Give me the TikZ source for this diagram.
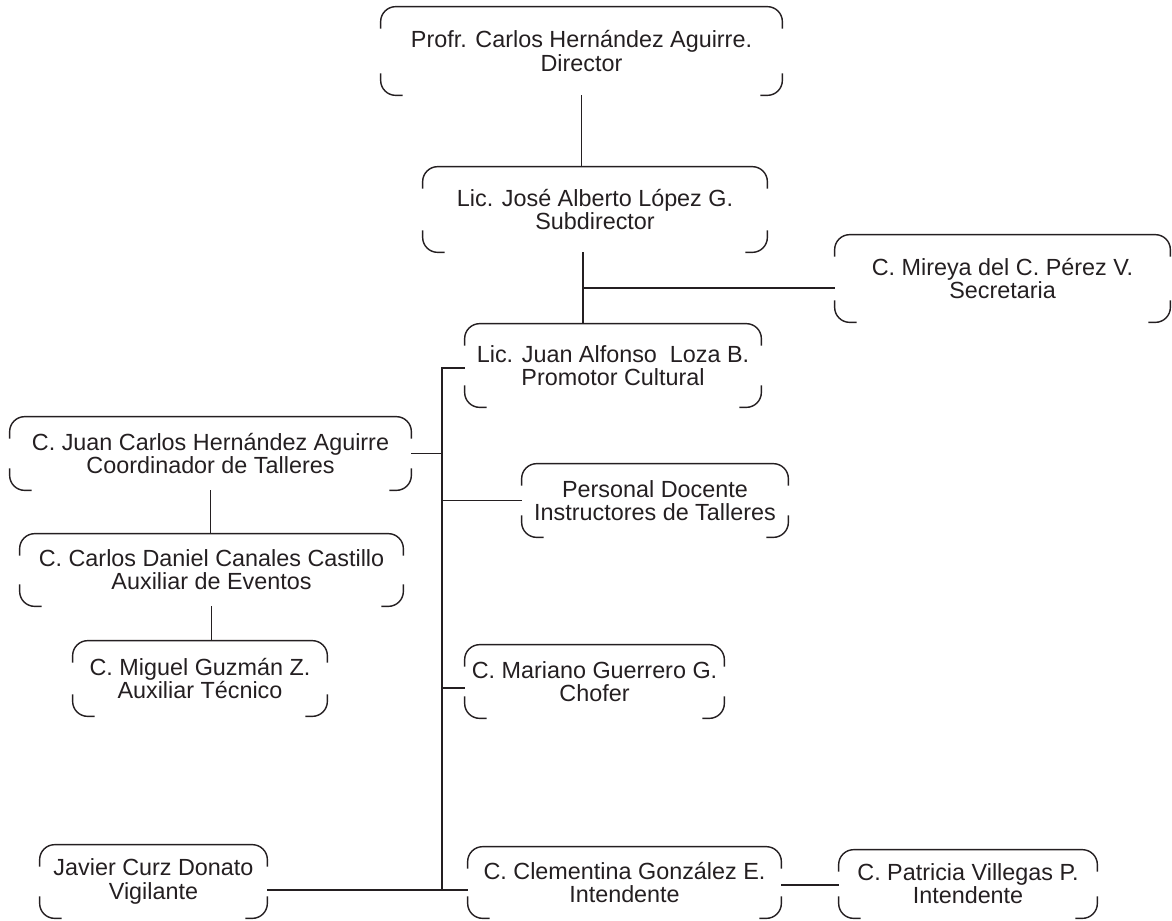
\documentclass[tikz,border=0pt]{standalone}
\usepackage{fontspec}
\setmainfont{Liberation Sans}
\definecolor{cink}{rgb}{0.14, 0.12, 0.13}

\tikzset{
  person/.style 2 args={align=center, inner sep=0pt, minimum width=#1*0.02cm, minimum height=#2*0.02cm, font=\fontsize{13.3}{13.2}\selectfont, text=cink},
  frame/.style={draw=cink, line width=0.8pt, rounded corners=0.3cm},
  link/.style={draw=cink, line width=0.8pt},
}

\begin{document}
\begin{tikzpicture}[x=0.02cm, y=-0.02cm]
\useasboundingbox (0,0) rectangle (1172,920);

% people
\node [person={401}{88}] (dir) at (581.5, 51) {Profr. Carlos Hernández Aguirre.\\Director};
\node [person={344}{85}] (sub) at (595, 209.5) {Lic. José Alberto López G.\\Subdirector};
\node [person={335}{87}] (sec) at (1002.5, 278.5) {C. Mireya del C. Pérez V.\\Secretaria};
\node [person={296}{83}] (pro) at (613, 365.5) {Lic. Juan Alfonso~ Loza B.\\Promotor Cultural};
\node [person={401}{73}] (coord) at (210.5, 453.5) {C. Juan Carlos Hernández Aguirre\\Coordinador de Talleres};
\node [person={383}{72}] (aux) at (211.5, 570) {C. Carlos Daniel Canales Castillo\\Auxiliar de Eventos};
\node [person={254}{75}] (tec) at (200, 678.5) {C. Miguel Guzmán Z.\\Auxiliar Técnico};
\node [person={266}{73}] (doc) at (655, 500.5) {Personal Docente\\Instructores de Talleres};
\node [person={259}{73}] (cho) at (594.5, 681.5) {C. Mariano Guerrero G.\\Chofer};
\node [person={227}{73}] (vig) at (153.5, 881.5) {Javier Curz Donato\\Vigilante};
\node [person={313}{71}] (int1) at (624.5, 882.5) {C. Clementina González E.\\Intendente};
\node [person={258}{68}] (int2) at (968, 884) {C. Patricia Villegas P.\\Intendente};

% bracket frames
\foreach \n in {dir, sub, sec, pro, coord, aux, tec, doc, cho, vig, int1, int2} {
    \draw [frame] ([yshift=-0.44cm]\n.north west) -- (\n.north west) -- (\n.north east) -- ([yshift=-0.44cm]\n.north east);
    \draw [frame] ([yshift=0.44cm]\n.south west) -- (\n.south west) -- ([xshift=0.44cm]\n.south west);
    \draw [frame] ([yshift=0.44cm]\n.south east) -- (\n.south east) -- ([xshift=-0.44cm]\n.south east);
}

% junctions
\coordinate (j1) at (583, 288);
\coordinate (t1) at (442, 368);
\coordinate (t2) at (442, 890);
\coordinate (t3) at (442, 688);
\coordinate (j2) at (781, 885);

% links
\draw [link] (dir.south) -- (dir.south |- sub.north);
\draw [link] (j1 |- sub.south) -- (j1 |- pro.north);
\draw [link] (j1) -- (j1 -| sec.west);
\draw [link] (t1 -| pro.west) -- (t1) -- (t2);
\draw [link] (coord.east) -- (coord.east -| t1);
\draw [link] (t1 |- doc.west) -- (doc.west);
\draw [link] (t3) -- (t3 -| cho.west);
\draw [link] (t2 -| vig.east) -- (t2 -| int1.west);
\draw [link] (j2 -| int1.east) -- (j2 -| int2.west);
\draw [link] (coord.south) -- (coord.south |- aux.north);
\draw [link] (aux.south) -- (aux.south |- tec.north);

\end{tikzpicture}
\end{document}
